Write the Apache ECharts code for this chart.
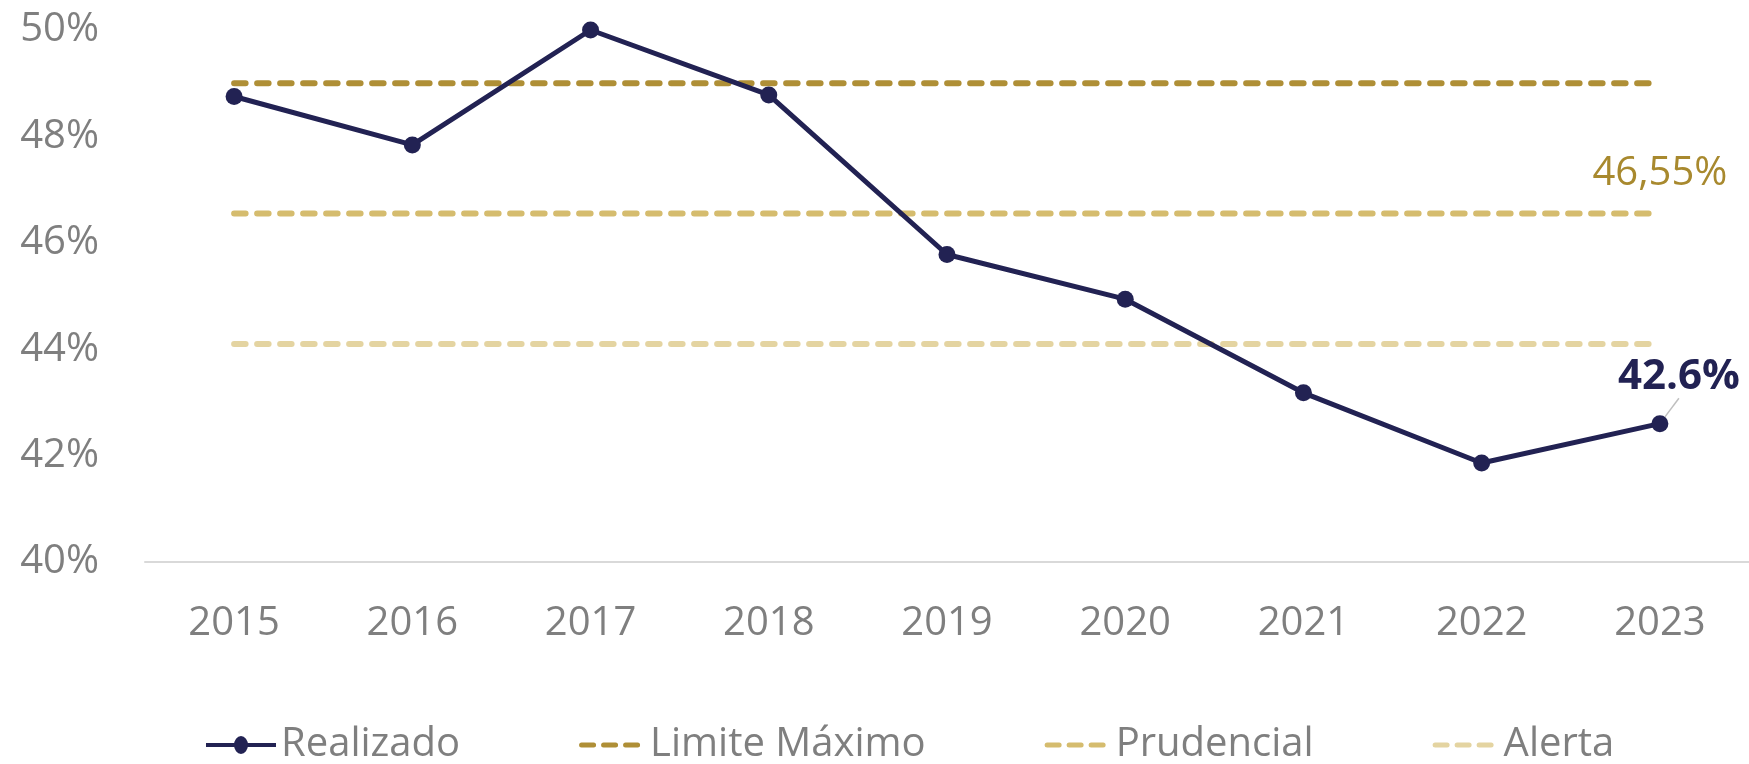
<!DOCTYPE html>
<html>
<head>
<meta charset="utf-8">
<script src="https://cdn.jsdelivr.net/npm/echarts@6/dist/echarts.min.js"></script>
<style>
  html, body { margin: 0; padding: 0; background: #fff; }
  #chart { width: 1749px; height: 764px; }
</style>
</head>
<body>
<div id="chart"></div>
<script>
// values
const years = ['2015', '2016', '2017', '2018', '2019', '2020', '2021', '2022', '2023']
const realizado = [48.75, 47.84, 50.0, 48.78, 45.78, 44.94, 43.18, 41.86, 42.6]
const limiteMaximo = [49, 49, 49, 49, 49, 49, 49, 49, 49]
const prudencial = [46.55, 46.55, 46.55, 46.55, 46.55, 46.55, 46.55, 46.55, 46.55]
const alerta = [44.1, 44.1, 44.1, 44.1, 44.1, 44.1, 44.1, 44.1, 44.1]
const yTicks = [40, 42, 44, 46, 48, 50]

const font = '"Open Sans", "Noto Sans", sans-serif'
const grey = '#7F7F7F'
const navy = '#222253'

// legend icons, drawn in a 70x18 box (tiny specks at the corners keep the box size)
const box = 'M0,0h0.01v0.01h-0.01z M70,18h-0.01v-0.01h0.01z '
const lineDotIcon = 'path://' + box + 'M0,7h70v4h-70z M42,9a7,9 0 1 1 -14,0a7,9 0 1 1 14,0z'
const dashIcon = 'path://' + box +
  'M6.5,6.5h12a2.5,2.5 0 0 1 0,5h-12a2.5,2.5 0 0 1 0,-5z ' +
  'M28.5,6.5h12a2.5,2.5 0 0 1 0,5h-12a2.5,2.5 0 0 1 0,-5z ' +
  'M50.5,6.5h12a2.5,2.5 0 0 1 0,5h-12a2.5,2.5 0 0 1 0,-5z'

function dashed(name, data, color, label) {
  return {
    name: name,
    type: 'line',
    data: data.map((v, i) => (label && i === data.length - 1) ? {value: v, label: label} : v),
    symbol: 'circle',
    symbolSize: 0.01,
    silent: true,
    lineStyle: {color: color, width: 6, type: [11.5, 11.5], cap: 'round'},
    itemStyle: {color: color},
    z: 1
  }
}

const chart = echarts.init(document.getElementById('chart'))
const option = {
  animation: false,
  textStyle: {fontFamily: font},
  grid: {left: 145, right: 0, top: 30, bottom: 202},
  legend: {
    left: 201,
    top: 720,
    itemWidth: 70,
    itemHeight: 18,
    itemGap: 115,
    textStyle: {fontSize: 40, color: grey, fontFamily: font},
    data: [
      {name: 'Realizado', icon: lineDotIcon},
      {name: 'Limite Máximo', icon: dashIcon},
      {name: 'Prudencial', icon: dashIcon},
      {name: 'Alerta', icon: dashIcon}
    ]
  },
  xAxis: {
    type: 'category',
    data: years,
    boundaryGap: true,
    axisLine: {lineStyle: {color: '#D9D9D9', width: 2}},
    axisTick: {show: false},
    axisLabel: {fontSize: 40, color: grey, margin: 42, fontFamily: font}
  },
  yAxis: {
    type: 'value',
    min: yTicks[0],
    max: yTicks[yTicks.length - 1],
    interval: 2,
    splitLine: {show: false},
    axisLine: {show: false},
    axisTick: {show: false},
    axisLabel: {fontSize: 40, color: grey, margin: 46, formatter: '{value}%', fontFamily: font}
  },
  series: [
    {
      name: 'Realizado',
      type: 'line',
      data: realizado.map((v, i) => i === realizado.length - 1 ? {
        value: v,
        label: {
          show: true,
          formatter: '42.6%',
          position: 'top',
          fontSize: 42,
          fontWeight: 'bold',
          color: navy,
          fontFamily: font
        },
        labelLine: {show: true, lineStyle: {color: '#BFBFBF', width: 1.5}}
      } : v),
      labelLayout: params => params.dataIndex === realizado.length - 1 ? {dx: 19, dy: -12} : {},
      symbol: 'circle',
      symbolSize: 17,
      lineStyle: {color: navy, width: 5},
      itemStyle: {color: navy},
      z: 5
    },
    dashed('Limite Máximo', limiteMaximo, '#AF8F36'),
    dashed('Prudencial', prudencial, '#D5BC6E', {
      show: true,
      position: 'top',
      distance: 20,
      formatter: '46,55%',
      fontSize: 40,
      color: '#A8892E',
      fontFamily: font
    }),
    dashed('Alerta', alerta, '#E4D4A1')
  ]
}
option && chart.setOption(option)
</script>
</body>
</html>
